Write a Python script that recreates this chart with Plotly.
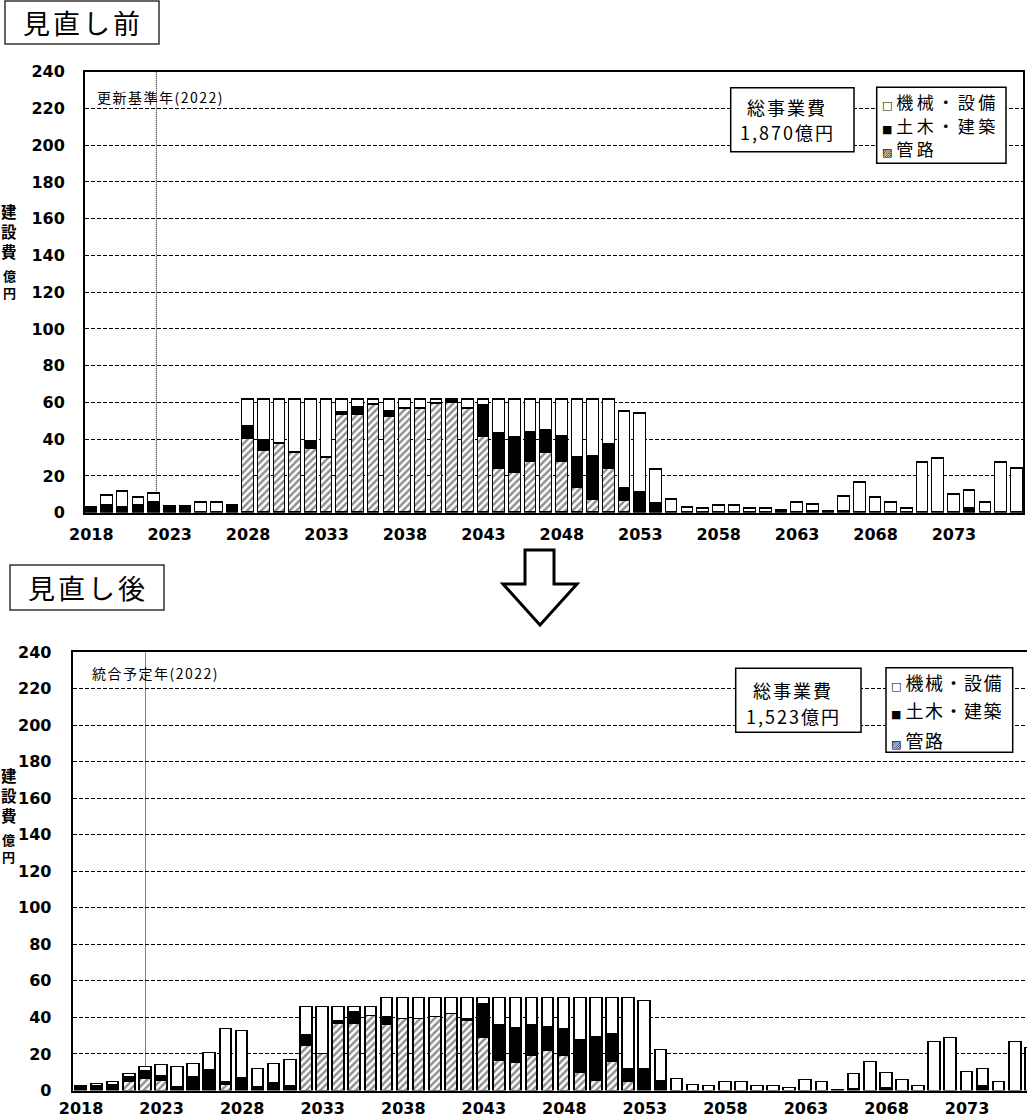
import plotly.graph_objects as go

W, H = 1027, 1120

years = list(range(2018, 2078))

# ---- 見直し前 (before review) ----
before_pipe = [0, 0, 0, 0, 0, 0, 0, 0, 0, 0,
               40.4, 33.5, 37.8, 32.7, 34.9, 30.2, 53.1, 53.5, 58.6, 52.4,
               56.6, 56.6, 59.3, 60.0, 56.6, 41.5, 24.0, 21.8, 27.8, 32.7,
               27.8, 13.8, 7.3, 23.7, 6.5, 0, 0, 0, 0, 0,
               0, 0, 0, 0, 0, 0, 0, 0, 0, 0,
               0, 0, 0, 0, 0, 0, 0, 0, 0, 0]
before_civil = [1.5, 3.6, 2.9, 3.6, 5.5, 2.0, 2.0, 0, 0, 2.5,
                6.2, 5.6, 0, 0, 3.7, 0, 1.5, 3.5, 0, 2.4,
                0, 0, 0, 1.0, 0, 16.7, 18.9, 18.8, 16.0, 11.7,
                13.7, 16.2, 23.3, 13.2, 6.6, 11.1, 5.1, 0, 0, 0,
                0, 0, 0, 0, 0, 0, 0.5, 0, 0.5, 0,
                0, 0, 0, 0, 0, 0, 2.2, 0, 0, 0]
before_mech = [1.2, 5.7, 8.4, 4.8, 5.1, 1.3, 1.3, 5.5, 5.5, 1.5,
               14.9, 22.4, 23.7, 28.8, 22.9, 31.3, 6.9, 4.5, 2.9, 6.7,
               4.9, 4.9, 2.2, 0.5, 4.9, 3.3, 18.6, 20.9, 17.7, 17.1,
               20.0, 31.5, 30.9, 24.6, 41.8, 42.6, 18.2, 7.3, 2.7, 2.4,
               3.8, 3.8, 2.4, 2.4, 1.1, 5.7, 3.8, 0.3, 8.2, 16.6,
               8.4, 5.7, 2.4, 27.3, 29.5, 9.8, 9.8, 5.7, 27.3, 23.8]

# ---- 見直し後 (after review) ----
after_pipe = [0, 0, 0, 4.6, 6.2, 5.4, 0, 0, 0, 3.0,
              0, 0, 0, 0, 24.4, 20.0, 36.3, 36.5, 40.7, 35.8,
              38.9, 38.9, 40.3, 41.8, 38.1, 28.5, 16.3, 14.9, 18.9, 21.8,
              18.9, 9.8, 5.4, 15.8, 4.7, 0, 0, 0, 0, 0,
              0, 0, 0, 0, 0, 0, 0, 0, 0, 0,
              0, 0, 0, 0, 0, 0, 0, 0, 0, 0]
after_civil = [2.2, 2.5, 3.1, 3.0, 4.5, 2.8, 1.8, 7.6, 11.3, 1.5,
               6.9, 1.8, 4.0, 2.5, 6.1, 0, 1.7, 6.6, 0, 4.2,
               0, 0, 0, 0, 1.2, 19.1, 19.5, 19.4, 16.9, 13.1,
               14.7, 17.8, 24.0, 15.1, 7.1, 11.8, 5.4, 0, 0, 0,
               0, 0, 0, 0, 0, 0, 0, 0, 0.7, 0,
               1.2, 0, 0, 0, 0, 0, 2.6, 0, 0, 0]
after_mech = [0, 1.1, 1.8, 1.3, 2.4, 5.6, 11.3, 6.9, 9.1, 28.9,
              25.8, 9.9, 10.7, 14.2, 15.1, 25.6, 7.6, 2.5, 4.9, 10.9,
              12.0, 12.0, 10.6, 9.1, 11.6, 3.3, 15.1, 16.6, 15.1, 16.0,
              17.3, 23.3, 21.5, 20.0, 39.1, 37.2, 16.8, 6.5, 2.9, 2.7,
              4.4, 4.4, 2.7, 2.7, 1.3, 5.8, 4.4, 0.3, 8.5, 15.4,
              8.5, 5.8, 2.7, 26.7, 28.9, 10.2, 9.1, 4.9, 26.7, 23.1]

series_names = ["管路", "土木・建築", "機械・設備"]
legend_marks = ["□", "■", "▨"]
legend_texts = ["機械・設備", "土木・建築", "管路"]
total_lines = [("総事業費", "1,870億円"), ("総事業費", "1,523億円")]
titles = ["見直し前", "見直し後"]
ref_labels = ["更新基準年(2022)", "統合予定年(2022)"]
base_year = 2022
x_ticks = list(range(2018, 2078, 5))
y_ticks = list(range(0, 241, 20))


def nz(v):
    return [None if a == 0 else a for a in v]


def PX(x):
    return x / W


def PY(y):
    return 1 - y / H


def sp(t, ls):
    return f"<span style='letter-spacing:{ls}px'>{t}</span>"


fig = go.Figure()

bar_line = dict(color="black", width=1.5)
styles = [
    dict(color="white", line=bar_line,
         pattern=dict(shape="/", fgcolor="#222222", bgcolor="white", size=5, solidity=0.5)),
    dict(color="black", line=bar_line),
    dict(color="white", line=bar_line),
]

for (p, c, m), xa, ya, bw in [((before_pipe, before_civil, before_mech), "x", "y", 0.74),
                              ((after_pipe, after_civil, after_mech), "x2", "y2", 0.72)]:
    for name, vals, st in zip(series_names, (p, c, m), styles):
        fig.add_trace(go.Bar(x=years, y=nz(vals), name=name, marker=st, width=bw,
                             xaxis=xa, yaxis=ya, showlegend=False))

tickfont = dict(family="DejaVu Sans", size=16, color="black", weight="bold")
axis_common = dict(showline=True, linecolor="black", linewidth=2, ticks="",
                   tickfont=tickfont, zeroline=False, automargin=False)

fig.update_layout(
    width=W, height=H,
    margin=dict(l=0, r=0, t=0, b=0, autoexpand=False),
    paper_bgcolor="white", plot_bgcolor="white",
    barmode="stack", bargap=0,
    xaxis=dict(domain=[PX(85), PX(1023)], range=[2017.6, 2077.4], tickvals=x_ticks,
               showgrid=False, mirror=True, anchor="y", ticklabelstandoff=6, **axis_common),
    yaxis=dict(domain=[PY(512.7), PY(71.7)], range=[0, 240], tickvals=y_ticks,
               showgrid=True, gridcolor="black", gridwidth=1, griddash="4px,2px",
               mirror=True, anchor="x", ticklabelstandoff=15, **axis_common),
    xaxis2=dict(domain=[PX(72.7), 1], range=[2017.48, 2076.72], tickvals=x_ticks,
                showgrid=False, mirror=True, anchor="y2", ticklabelstandoff=2, **axis_common),
    yaxis2=dict(domain=[PY(1090.5), PY(652)], range=[0, 240], tickvals=y_ticks,
                showgrid=True, gridcolor="black", gridwidth=1, griddash="4px,2px",
                mirror=False, anchor="x2", ticklabelstandoff=16, **axis_common),
)

shapes = []
annotations = []
jp = "Noto Sans CJK JP"

# dotted reference-year lines
for xr, yr, off in [("x", "y", 0.15), ("x2", "y2", 0.0)]:
    shapes.append(dict(type="line", xref=xr, yref=yr, x0=base_year + off, x1=base_year + off,
                       y0=0, y1=240, line=dict(color="black", width=1, dash="1px,1px"),
                       layer="between"))

# title boxes
for (x0, y0, x1, y1), t in zip([(5, 1, 159, 44), (10, 565, 164, 610)], titles):
    shapes.append(dict(type="rect", xref="paper", yref="paper", x0=PX(x0), x1=PX(x1),
                       y0=PY(y1), y1=PY(y0), line=dict(color="#333", width=1.5),
                       fillcolor="white"))
    annotations.append(dict(xref="paper", yref="paper", x=PX((x0 + x1) / 2 + 1), y=PY((y0 + y1) / 2),
                            text=sp(t, 3), showarrow=False, xanchor="center", yanchor="middle",
                            font=dict(family=jp, size=27, color="black")))

# total cost boxes
for (x0, y0, x1, y1), (l1, l2), ys in zip([(730.7, 87.7, 854, 151.7), (735.7, 668.3, 861, 732.3)],
                                          total_lines, [(107.0, 132.0), (689.5, 715.5)]):
    shapes.append(dict(type="rect", xref="paper", yref="paper", x0=PX(x0), x1=PX(x1),
                       y0=PY(y1), y1=PY(y0), line=dict(color="black", width=1.5),
                       fillcolor="white"))
    for txt, yy in zip((l1, l2), ys):
        annotations.append(dict(xref="paper", yref="paper", x=PX((x0 + x1) / 2 - 5), y=PY(yy),
                                text=sp(txt, 2), showarrow=False, xanchor="center",
                                yanchor="middle",
                                font=dict(family=jp, size=18, color="black")))

# legend boxes
for (x0, y0, x1, y1), ys, fs, ls in zip([(876.7, 87.3, 1006, 163.3), (886, 667.7, 1012.7, 752.3)],
                                        [(101.0, 125.5, 149.0), (682.3, 710.3, 740.0)],
                                        [17, 18], [3.5, 1.5]):
    shapes.append(dict(type="rect", xref="paper", yref="paper", x0=PX(x0), x1=PX(x1),
                       y0=PY(y1), y1=PY(y0), line=dict(color="black", width=1.5),
                       fillcolor="white"))
    for mk, txt, yy in zip(legend_marks, legend_texts, ys):
        annotations.append(dict(xref="paper", yref="paper", x=PX(x0 + 3), y=PY(yy),
                                text=f"<span style='font-family:DejaVu Sans;font-size:11px'>{mk}</span> "
                                     + sp(txt, ls),
                                showarrow=False, xanchor="left", yanchor="middle",
                                font=dict(family=jp, size=fs, color="black")))

# reference year labels
for (xx, yy), t in zip([(95, 97.5), (90, 672.5)], ref_labels):
    annotations.append(dict(xref="paper", yref="paper", x=PX(xx), y=PY(yy), text=sp(t, 1.5),
                            showarrow=False, xanchor="left", yanchor="middle",
                            font=dict(family=jp, size=14, color="black")))

# y-axis titles (vertical)
for xx, ytop in [(9, 211), (8.5, 775)]:
    annotations.append(dict(xref="paper", yref="paper", x=PX(xx), y=PY(ytop + 20),
                            text="建<br>設<br>費", showarrow=False, xanchor="center",
                            yanchor="middle",
                            font=dict(family=jp, size=15.5, color="black", weight="bold")))
    annotations.append(dict(xref="paper", yref="paper", x=PX(xx), y=PY(ytop + 73),
                            text="億<br>円", showarrow=False, xanchor="center",
                            yanchor="middle",
                            font=dict(family=jp, size=13, color="black", weight="bold")))

# down arrow
pts = [(525, 550), (554, 550), (554, 584), (577, 584), (540, 625), (503, 584), (525, 584)]
path = "M " + " L ".join(f"{PX(x):.5f},{PY(y):.5f}" for x, y in pts) + " Z"
shapes.append(dict(type="path", xref="paper", yref="paper", path=path,
                   line=dict(color="black", width=3), fillcolor="white"))

fig.update_layout(shapes=shapes, annotations=annotations)
fig.write_html("out.html")
